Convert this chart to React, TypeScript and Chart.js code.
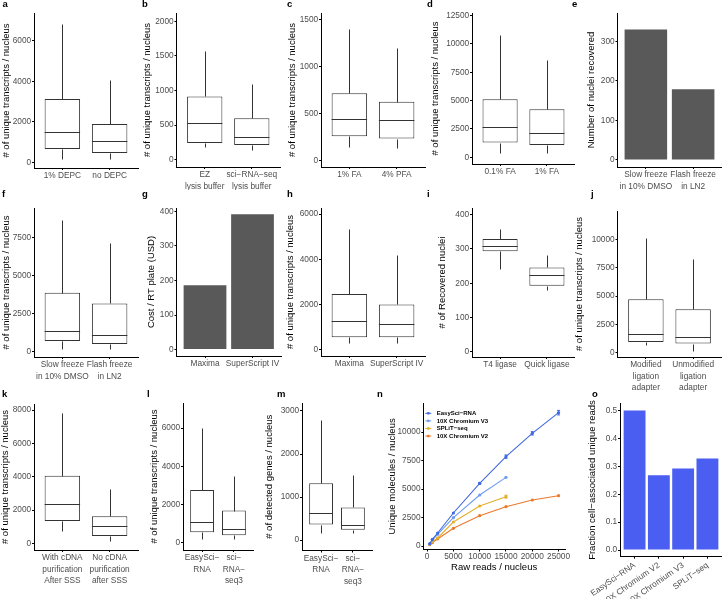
import React, { useEffect, useRef } from "react";
import { Chart, registerables } from "chart.js";

Chart.register(...registerables);

const FONT = "'Liberation Sans', Arial, Helvetica, sans-serif";
Chart.defaults.font.family = FONT;

// ---------------- data ----------------
// a
const aCats = ["1% DEPC", "no DEPC"];
const aLo = [150, 150];
const aQ1 = [660, 460];
const aMed = [1500, 1050];
const aQ3 = [3130, 1900];
const aHi = [6830, 4050];
const aTicks = [0, 2000, 4000, 6000];
// b
const bCats = [["EZ", "lysis buffer"], ["sci\u2212RNA\u2212seq", "lysis buffer"]];
const bLo = [184, 145];
const bQ1 = [242, 213];
const bMed = [523, 329];
const bQ3 = [915, 600];
const bHi = [1574, 1094];
const bTicks = [0, 500, 1000, 1500, 2000];
// c
const cCats = ["1% FA", "4% PFA"];
const cLo = [140, 130];
const cQ1 = [257, 232];
const cMed = [440, 432];
const cQ3 = [714, 625];
const cHi = [1400, 1196];
const cTicks = [0, 500, 1000, 1500];
// d
const dCats = ["0.1% FA", "1% FA"];
const dLo = [410, 410];
const dQ1 = [1300, 1090];
const dMed = [2710, 2180];
const dQ3 = [5130, 4245];
const dHi = [10800, 8600];
const dTicks = [0, 2500, 5000, 7500, 10000, 12500];
// e
const eCats = [["Slow freeze", "in 10% DMSO"], ["Flash freeze", "in LN2"]];
const eValues = [330, 179];
const eTicks = [0, 100, 200, 300];
// f
const fCats = [["Slow freeze", "in 10% DMSO"], ["Flash freeze", "in LN2"]];
const fLo = [220, 220];
const fQ1 = [722, 525];
const fMed = [1378, 1137];
const fQ3 = [3870, 3170];
const fHi = [8640, 7150];
const fTicks = [0, 2500, 5000, 7500];
// g
const gCats = ["Maxima", "SuperScript IV"];
const gValues = [186, 392];
const gTicks = [0, 100, 200, 300, 400];
// h
const hCats = ["Maxima", "SuperScript IV"];
const hLo = [296, 296];
const hQ1 = [548, 548];
const hMed = [1244, 1111];
const hQ3 = [2459, 2000];
const hHi = [5348, 4193];
const hTicks = [0, 2000, 4000, 6000];
// i
const iCats = ["T4 ligase", "Quick ligase"];
const iLo = [242, 180];
const iQ1 = [293, 193];
const iMed = [307, 224];
const iQ3 = [329, 246];
const iHi = [359, 283];
const iTicks = [0, 100, 200, 300, 400];
// j
const jCats = [["Modified", "ligation", "adapter"], ["Unmodified", "ligation", "adapter"]];
const jLo = [680, 200];
const jQ1 = [976, 828];
const jMed = [1657, 1420];
const jQ3 = [4734, 3846];
const jHi = [10148, 8284];
const jTicks = [0, 2500, 5000, 7500, 10000];
// k
const kCats = [["With cDNA", "purification", "After SSS"], ["No cDNA", "purification", "after SSS"]];
const kLo = [740, 140];
const kQ1 = [1340, 440];
const kMed = [2340, 1020];
const kQ3 = [4060, 1620];
const kHi = [7840, 3260];
const kTicks = [0, 2000, 4000, 6000, 8000];
// l
const lCats = [["EasySci\u2212", "RNA"], ["sci\u2212", "RNA\u2212", "seq3"]];
const lLo = [175, 175];
const lQ1 = [542, 385];
const lMed = [1067, 700];
const lQ3 = [2765, 1680];
const lHi = [6002, 3517];
const lTicks = [0, 2000, 4000, 6000];
// m
const mCats = [["EasySci\u2212", "RNA"], ["sci\u2212", "RNA\u2212", "seq3"]];
const mLo = [168, 168];
const mQ1 = [359, 237];
const mMed = [634, 359];
const mQ3 = [1320, 756];
const mHi = [2786, 1504];
const mTicks = [0, 1000, 2000, 3000];
// n
const nReads = [500, 1000, 2000, 5000, 10000, 15000, 20000, 25000];
const nEasySci = [205, 585, 1140, 2895, 5497, 7836, 9883, 11696];
const nEasySciErr = [0, 0, 0, 0, 80, 150, 150, 200];
const nV3 = [175, 526, 1023, 2485, 4474, 6023];
const nV3Err = [0, 0, 0, 0, 0, 0];
const nSplit = [146, 380, 702, 2105, 3509, 4327];
const nSplitErr = [0, 0, 0, 0, 0, 130];
const nV2 = [117, 292, 614, 1550, 2661, 3450, 4035, 4415];
const nV2Err = [0, 0, 0, 0, 0, 0, 0, 0];
const nXTicks = [0, 5000, 10000, 15000, 20000, 25000];
const nYTicks = [0, 2500, 5000, 7500, 10000];
// o
const oCats = ["EasySci\u2212RNA", "10X Chromium V2", "10X Chromium V3", "SPLiT\u2212seq"];
const oValues = [0.5, 0.268, 0.292, 0.328];
const oTicks = [0, 0.1, 0.2, 0.3, 0.4, 0.5];

// ---------------- style ----------------
const TICK_COLOR = "#4D4D4D";
const AXIS_COLOR = "#000000";
const BOX_COLOR = "#333333";
const GREY_BAR = "#595959";
const BLUE_BAR = "#4A5EF2";
const TITLE_SIZE = 9.5;
const TICK_SIZE = 8.3;
const TICK_LEN = 2;

const zeroPad = (s: any) => {
  s.paddingLeft = 0;
  s.paddingRight = 0;
  s.paddingTop = 0;
  s.paddingBottom = 0;
};

const boxWhisker = {
  id: "boxWhisker",
  afterDatasetsDraw(chart: any) {
    const ds: any = chart.data.datasets[0];
    if (!ds || !ds.med) return;
    const meta = chart.getDatasetMeta(0);
    const ys = chart.scales.y;
    const ctx = chart.ctx;
    ctx.save();
    ctx.strokeStyle = BOX_COLOR;
    ctx.lineWidth = 1;
    const py = (v: number) => Math.round(ys.getPixelForValue(v)) + 0.5;
    meta.data.forEach((el: any, i: number) => {
      const cx = Math.round(el.x) + 0.5;
      const half = el.width / 2;
      ctx.beginPath();
      ctx.moveTo(cx, py(ds.q3v[i]));
      ctx.lineTo(cx, py(ds.hi[i]));
      ctx.moveTo(cx, py(ds.q1v[i]));
      ctx.lineTo(cx, py(ds.lo[i]));
      ctx.moveTo(el.x - half, py(ds.med[i]));
      ctx.lineTo(el.x + half, py(ds.med[i]));
      ctx.stroke();
    });
    ctx.restore();
  },
};

const errorBars = {
  id: "errorBars",
  afterDatasetsDraw(chart: any) {
    const ctx = chart.ctx;
    const ys = chart.scales.y;
    chart.data.datasets.forEach((ds: any, di: number) => {
      if (!ds.err) return;
      const meta = chart.getDatasetMeta(di);
      ctx.save();
      ctx.strokeStyle = ds.borderColor;
      ctx.lineWidth = 1;
      meta.data.forEach((pt: any, i: number) => {
        const e = ds.err[i];
        if (!e) return;
        const v = ds.data[i].y;
        const y1 = ys.getPixelForValue(v - e);
        const y2 = ys.getPixelForValue(v + e);
        ctx.beginPath();
        ctx.moveTo(pt.x, y1);
        ctx.lineTo(pt.x, y2);
        ctx.moveTo(pt.x - 1.5, y1);
        ctx.lineTo(pt.x + 1.5, y1);
        ctx.moveTo(pt.x - 1.5, y2);
        ctx.lineTo(pt.x + 1.5, y2);
        ctx.stroke();
      });
      ctx.restore();
    });
  },
};

const insideLegend = {
  id: "insideLegend",
  afterDatasetsDraw(chart: any, _args: any, opts: any) {
    if (!opts || !opts.show) return;
    const { ctx, chartArea } = chart;
    ctx.save();
    ctx.font = `bold ${opts.fontSize}px ${FONT}`;
    ctx.textBaseline = "middle";
    ctx.textAlign = "left";
    chart.data.datasets.forEach((ds: any, i: number) => {
      const y = chartArea.top + opts.top + i * opts.spacing;
      const x = chartArea.left + opts.left;
      ctx.strokeStyle = ds.borderColor;
      ctx.lineWidth = 1;
      ctx.beginPath();
      ctx.moveTo(x - 3, y);
      ctx.lineTo(x + 3, y);
      ctx.stroke();
      ctx.fillStyle = ds.borderColor;
      ctx.beginPath();
      ctx.arc(x, y, 1.4, 0, Math.PI * 2);
      ctx.fill();
      ctx.fillStyle = "#000";
      ctx.fillText(ds.label, x + opts.textGap, y);
    });
    ctx.restore();
  },
};

function gridOpts() {
  return {
    drawOnChartArea: false,
    drawTicks: true,
    tickLength: TICK_LEN,
    color: AXIS_COLOR,
    offset: false,
  };
}

function yScale(spec: any) {
  const lh = TITLE_SIZE * 1.2;
  const width = spec.plot.l - spec.cell.x;
  const tpad = Math.max(0, spec.yTitleX - spec.cell.x - lh / 2);
  return {
    type: "linear",
    position: "left",
    min: spec.yMin,
    max: spec.yMax,
    afterBuildTicks: (s: any) => {
      s.ticks = spec.yTicks.map((v: number) => ({ value: v }));
    },
    afterFit: (s: any) => {
      s.width = width;
      zeroPad(s);
    },
    grid: gridOpts(),
    border: { display: true, color: AXIS_COLOR, width: 1 },
    ticks: {
      padding: 0.8,
      color: TICK_COLOR,
      autoSkip: false,
      font: { size: TICK_SIZE, family: FONT },
      callback: spec.yFmt || ((v: any) => String(v)),
    },
    title: {
      display: true,
      text: spec.yTitle,
      color: "#000",
      font: { size: TITLE_SIZE, family: FONT },
      padding: { top: tpad, bottom: 0 },
    },
  };
}

function xCatScale(spec: any) {
  const height = spec.cell.y + spec.cell.h - spec.plot.b;
  const cats = spec.cats;
  const rot = spec.rotation || 0;
  return {
    type: "linear",
    position: "bottom",
    min: 0.4,
    max: cats.length + 0.6,
    offset: false,
    afterBuildTicks: (s: any) => {
      s.ticks = cats.map((_: any, i: number) => ({ value: i + 1 }));
    },
    afterFit: (s: any) => {
      s.height = height;
      zeroPad(s);
    },
    grid: gridOpts(),
    border: { display: true, color: AXIS_COLOR, width: 1 },
    ticks: {
      autoSkip: false,
      minRotation: rot,
      maxRotation: rot,
      padding: rot ? 1 : 0,
      color: TICK_COLOR,
      font: { size: TICK_SIZE, family: FONT, lineHeight: 1.4 },
      callback: (v: any) => cats[Math.round(v) - 1] ?? "",
    },
  };
}

function xLinScale(spec: any) {
  const height = spec.cell.y + spec.cell.h - spec.plot.b;
  const lh = TITLE_SIZE * 1.2;
  const bpad = spec.cell.y + spec.cell.h - spec.xTitleY - lh / 2;
  return {
    type: "linear",
    position: "bottom",
    min: spec.xMin,
    max: spec.xMax,
    afterBuildTicks: (s: any) => {
      s.ticks = spec.xTicks.map((v: number) => ({ value: v }));
    },
    afterFit: (s: any) => {
      s.height = height;
      zeroPad(s);
    },
    grid: gridOpts(),
    border: { display: true, color: AXIS_COLOR, width: 1 },
    ticks: {
      autoSkip: false,
      minRotation: 0,
      maxRotation: 0,
      padding: 0,
      color: TICK_COLOR,
      font: { size: TICK_SIZE, family: FONT },
      callback: (v: any) => String(v),
    },
    title: {
      display: true,
      text: spec.xTitle,
      color: "#000",
      font: { size: TITLE_SIZE, family: FONT },
      padding: { top: 0, bottom: bpad },
    },
  };
}

function buildConfig(spec: any): any {
  const padding = {
    left: 0,
    top: spec.plot.t - spec.cell.y,
    right: spec.cell.x + spec.cell.w - spec.plot.r,
    bottom: 0,
  };
  const base = {
    animation: false,
    responsive: false,
    maintainAspectRatio: false,
    devicePixelRatio: 1,
    layout: { padding },
    events: [],
    plugins: {
      legend: { display: false },
      tooltip: { enabled: false },
      insideLegend: spec.legend || { show: false },
    },
  };
  if (spec.kind === "box") {
    return {
      type: "bar",
      data: {
        datasets: [
          {
            data: spec.cats.map((_: any, i: number) => ({ x: i + 1, y: [spec.q1[i], spec.q3[i]] })),
            backgroundColor: "#FFFFFF",
            borderColor: BOX_COLOR,
            borderWidth: 1,
            borderSkipped: false,
            categoryPercentage: 1,
            barPercentage: 0.75,
            lo: spec.lo,
            q1v: spec.q1,
            med: spec.med,
            q3v: spec.q3,
            hi: spec.hi,
          },
        ],
      },
      options: { ...base, scales: { x: xCatScale(spec), y: yScale(spec) } },
      plugins: [boxWhisker],
    };
  }
  if (spec.kind === "bar") {
    return {
      type: "bar",
      data: {
        datasets: [
          {
            data: spec.cats.map((_: any, i: number) => ({ x: i + 1, y: spec.values[i] })),
            backgroundColor: spec.color,
            borderWidth: 0,
            categoryPercentage: 1,
            barPercentage: 0.9,
          },
        ],
      },
      options: { ...base, scales: { x: xCatScale(spec), y: yScale(spec) } },
    };
  }
  return {
    type: "line",
    data: {
      datasets: spec.series.map((s: any) => ({
        label: s.label,
        data: s.y.map((v: number, i: number) => ({ x: spec.xs[i], y: v })),
        err: s.err,
        borderColor: s.color,
        backgroundColor: s.color,
        pointBackgroundColor: s.color,
        pointRadius: 1.6,
        pointBorderWidth: 0,
        borderWidth: 1.1,
        tension: 0,
      })),
    },
    options: { ...base, scales: { x: xLinScale(spec), y: yScale(spec) } },
    plugins: [errorBars, insideLegend],
  };
}

const TX = "# of unique transcripts / nucleus";

const PANELS: any[] = [
  { key: "a", kind: "box", cell: { x: 0, y: 0, w: 145, h: 190 }, plot: { l: 34, t: 13, r: 138, b: 168 }, yTitleX: 6, yTitle: TX,
    cats: aCats, lo: aLo, q1: aQ1, med: aMed, q3: aQ3, hi: aHi, yTicks: aTicks, yMin: -276, yMax: 7370 },
  { key: "b", kind: "box", cell: { x: 140, y: 0, w: 145, h: 190 }, plot: { l: 176.5, t: 13, r: 280, b: 167 }, yTitleX: 147, yTitle: TX,
    cats: bCats, lo: bLo, q1: bQ1, med: bMed, q3: bQ3, hi: bHi, yTicks: bTicks, yMin: -107, yMax: 2122 },
  { key: "c", kind: "box", cell: { x: 285, y: 0, w: 145, h: 190 }, plot: { l: 321, t: 13, r: 425, b: 167 }, yTitleX: 292, yTitle: TX,
    cats: cCats, lo: cLo, q1: cQ1, med: cMed, q3: cQ3, hi: cHi, yTicks: cTicks, yMin: -72, yMax: 1571 },
  { key: "d", kind: "box", cell: { x: 425, y: 0, w: 150, h: 190 }, plot: { l: 472, t: 13, r: 575, b: 164 }, yTitleX: 435, yTitle: TX,
    cats: dCats, lo: dLo, q1: dQ1, med: dMed, q3: dQ3, hi: dHi, yTicks: dTicks, yMin: -590, yMax: 12734 },
  { key: "e", kind: "bar", cell: { x: 570, y: 0, w: 152, h: 190 }, plot: { l: 617.5, t: 13, r: 721.5, b: 167 }, yTitleX: 591, yTitle: "Number of nuclei recovered",
    cats: eCats, values: eValues, color: GREY_BAR, yTicks: eTicks, yMin: -17.8, yMax: 372 },
  { key: "f", kind: "box", cell: { x: 0, y: 190, w: 145, h: 200 }, plot: { l: 34, t: 208, r: 138, b: 357 }, yTitleX: 6, yTitle: TX,
    cats: fCats, lo: fLo, q1: fQ1, med: fMed, q3: fQ3, hi: fHi, yTicks: fTicks, yMin: -328, yMax: 9409 },
  { key: "g", kind: "bar", cell: { x: 140, y: 190, w: 145, h: 200 }, plot: { l: 176.5, t: 208, r: 281, b: 356 }, yTitleX: 151, yTitle: "Cost / RT plate (USD)",
    cats: gCats, values: gValues, color: GREY_BAR, yTicks: gTicks, yMin: -18.6, yMax: 410 },
  { key: "h", kind: "box", cell: { x: 285, y: 190, w: 145, h: 200 }, plot: { l: 321, t: 208, r: 425, b: 356 }, yTitleX: 290, yTitle: TX,
    cats: hCats, lo: hLo, q1: hQ1, med: hMed, q3: hQ3, hi: hHi, yTicks: hTicks, yMin: -284, yMax: 6267 },
  { key: "i", kind: "box", cell: { x: 425, y: 190, w: 150, h: 200 }, plot: { l: 472, t: 208, r: 575, b: 357 }, yTitleX: 442, yTitle: "# of Recovered nuclei",
    cats: iCats, lo: iLo, q1: iQ1, med: iMed, q3: iQ3, hi: iHi, yTicks: iTicks, yMin: -14.6, yMax: 419 },
  { key: "j", kind: "box", cell: { x: 570, y: 190, w: 152, h: 210 }, plot: { l: 617.5, t: 211, r: 721.5, b: 357 }, yTitleX: 579, yTitle: TX,
    cats: jCats, lo: jLo, q1: jQ1, med: jMed, q3: jQ3, hi: jHi, yTicks: jTicks, yMin: -355, yMax: 12500 },
  { key: "k", kind: "box", cell: { x: 0, y: 390, w: 145, h: 209 }, plot: { l: 34, t: 404, r: 138, b: 550 }, yTitleX: 5, yTitle: TX,
    cats: kCats, lo: kLo, q1: kQ1, med: kMed, q3: kQ3, hi: kHi, yTicks: kTicks, yMin: -402, yMax: 8366 },
  { key: "l", kind: "box", cell: { x: 145, y: 390, w: 115, h: 209 }, plot: { l: 183, t: 403, r: 253, b: 550 }, yTitleX: 154, yTitle: TX,
    cats: lCats, lo: lLo, q1: lQ1, med: lMed, q3: lQ3, hi: lHi, yTicks: lTicks, yMin: -383, yMax: 7317 },
  { key: "m", kind: "box", cell: { x: 262, y: 390, w: 115, h: 209 }, plot: { l: 302, t: 403, r: 372, b: 550.5 }, yTitleX: 269, yTitle: "# of detected genes / nucleus",
    cats: mCats, lo: mLo, q1: mQ1, med: mMed, q3: mQ3, hi: mHi, yTicks: mTicks, yMin: -244, yMax: 3186 },
  { key: "n", kind: "line", cell: { x: 377, y: 390, w: 210, h: 209 }, plot: { l: 423.3, t: 403.3, r: 565, b: 549.5 }, yTitleX: 392, yTitle: "Unique molecules / nucleus",
    xTitle: "Raw reads / nucleus", xTitleY: 567.7, xs: nReads, xTicks: nXTicks, xMin: -725, xMax: 26225,
    yTicks: nYTicks, yMin: -307, yMax: 12518,
    series: [
      { label: "EasySci\u2212RNA", y: nEasySci, err: nEasySciErr, color: "#4169E1" },
      { label: "10X Chromium V3", y: nV3, err: nV3Err, color: "#6E9CF2" },
      { label: "SPLiT\u2212seq", y: nSplit, err: nSplitErr, color: "#E3B12E" },
      { label: "10X Chromium V2", y: nV2, err: nV2Err, color: "#EC7A2C" },
    ],
    legend: { show: true, left: 5, top: 10, spacing: 7.6, fontSize: 6, textGap: 8.4 } },
  { key: "o", kind: "bar", cell: { x: 580, y: 390, w: 142, h: 209 }, plot: { l: 620, t: 403.3, r: 722, b: 556.7 }, yTitleX: 592, yTitle: "Fraction cell\u2212associated unique reads",
    cats: oCats, values: oValues, color: BLUE_BAR, rotation: 35, yTicks: oTicks, yMin: -0.024, yMax: 0.526,
    yFmt: (v: number) => v.toFixed(1) },
];

const LETTERS = [
  { t: "a", x: 2.5, y: -1 }, { t: "b", x: 142, y: -1 }, { t: "c", x: 287, y: -1 }, { t: "d", x: 427, y: -1 }, { t: "e", x: 572, y: -1 },
  { t: "f", x: 2, y: 189 }, { t: "g", x: 142, y: 189 }, { t: "h", x: 287, y: 189 }, { t: "i", x: 427, y: 189 }, { t: "j", x: 591, y: 189 },
  { t: "k", x: 2, y: 389 }, { t: "l", x: 147, y: 389 }, { t: "m", x: 277, y: 389 }, { t: "n", x: 377, y: 389 }, { t: "o", x: 592, y: 389 },
];

function PanelChart({ spec }: { spec: any }) {
  const ref = useRef<HTMLCanvasElement>(null);
  useEffect(() => {
    if (!ref.current) return;
    const chart = new Chart(ref.current, buildConfig(spec));
    return () => chart.destroy();
  }, [spec]);
  return (
    <canvas
      ref={ref}
      width={spec.cell.w}
      height={spec.cell.h}
      style={{ position: "absolute", left: spec.cell.x, top: spec.cell.y, width: spec.cell.w, height: spec.cell.h }}
    />
  );
}

export default function App() {
  return (
    <div style={{ position: "absolute", left: 0, top: 0, width: 722, height: 599, background: "#FFFFFF", overflow: "hidden" }}>
      {PANELS.map((p) => (
        <PanelChart key={p.key} spec={p} />
      ))}
      {LETTERS.map((l) => (
        <div
          key={l.t}
          style={{
            position: "absolute",
            left: l.x,
            top: l.y,
            font: `bold 9.5px ${FONT}`,
            lineHeight: "9.5px",
            color: "#000",
          }}
        >
          {l.t}
        </div>
      ))}
    </div>
  );
}
